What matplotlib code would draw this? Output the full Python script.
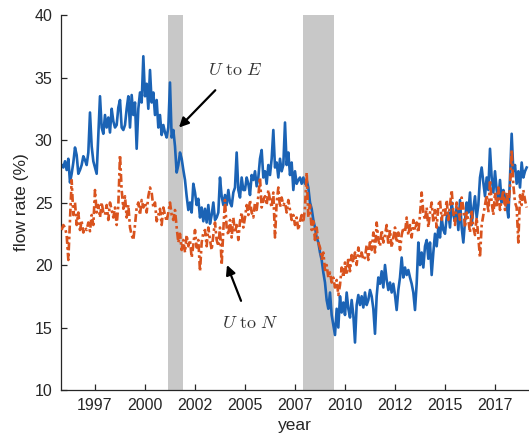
import matplotlib
matplotlib.use("Agg")
import matplotlib.pyplot as plt
import numpy as np

# ============================================================
# Data: monthly flow rates out of unemployment (%), Nov 1995 - Feb 2019
# ============================================================

start_year, start_month = 1995, 11

# U -> E flow rate, one row per calendar year
u_to_e = [
    28.0, 27.8,                                                          # 1995 (Nov-Dec)
    28.3, 27.6, 28.5, 26.6, 27.3, 28.2, 29.4, 28.8, 27.3, 27.6, 28.0, 28.7,  # 1996
    28.4, 28.0, 29.0, 32.2, 29.5, 28.3, 27.8, 27.3, 30.5, 33.5, 31.0, 30.5,  # 1997
    32.0, 31.0, 31.8, 30.6, 32.5, 31.5, 31.0, 31.2, 32.6, 33.2, 31.0, 30.8,  # 1998
    31.2, 32.5, 33.5, 31.0, 33.6, 32.0, 33.0, 29.3, 32.5, 33.8, 33.0, 36.7,  # 1999
    33.5, 34.5, 32.5, 35.6, 33.0, 33.8, 32.0, 33.2, 31.0, 32.0, 30.4, 31.2,  # 2000
    30.6, 30.2, 31.0, 34.6, 30.2, 30.8, 29.5, 27.4, 28.0, 29.0, 28.5, 27.6,  # 2001
    26.8, 25.5, 24.4, 25.0, 24.2, 26.5, 25.8, 24.8, 25.3, 23.8, 24.6, 23.5,  # 2002
    24.5, 23.4, 24.8, 23.3, 24.0, 25.0, 23.6, 23.8, 24.2, 27.0, 25.5, 24.8,  # 2003
    25.6, 24.8, 26.0, 25.0, 24.7, 25.8, 26.2, 29.0, 26.0, 25.4, 27.0, 26.0,  # 2004
    26.0, 27.0, 26.5, 25.6, 27.2, 26.8, 27.5, 26.3, 27.0, 28.5, 29.2, 27.0,  # 2005
    27.5, 26.5, 28.0, 27.2, 28.5, 30.8, 27.8, 28.2, 27.0, 28.5, 27.5, 28.0,  # 2006
    31.4, 28.0, 29.0, 27.2, 28.2, 26.0, 27.5, 26.5, 26.8, 27.0, 26.5, 27.0,  # 2007
    26.5, 26.8, 26.2, 25.0, 24.5, 23.6, 23.0, 22.2, 21.8, 21.0, 20.4, 19.4,  # 2008
    18.6, 17.2, 16.5, 17.8, 16.0, 15.2, 14.4, 16.5, 15.0, 17.5, 16.2, 17.0,  # 2009
    16.0, 17.8, 16.5, 15.8, 17.2, 16.0, 13.8, 16.8, 17.6, 16.8, 17.5, 16.6,  # 2010
    17.8, 16.8, 17.2, 18.0, 17.5, 16.5, 14.5, 17.5, 19.0, 18.5, 19.5, 18.2,  # 2011
    20.0, 18.8, 18.0, 18.6, 17.8, 18.5, 17.6, 16.4, 18.0, 19.0, 20.6, 19.0,  # 2012
    19.8, 19.2, 19.6, 19.0, 18.5, 17.8, 16.4, 18.5, 21.8, 20.0, 21.0, 19.8,  # 2013
    21.5, 22.0, 20.5, 21.8, 19.2, 21.0, 22.5, 21.5, 23.0, 22.2, 23.8, 22.8,  # 2014
    22.5, 23.8, 24.2, 23.0, 25.0, 24.0, 23.5, 24.6, 22.8, 25.2, 23.0, 21.8,  # 2015
    23.5, 25.0, 24.2, 25.8, 23.2, 24.5, 25.5, 23.8, 24.8, 27.0, 27.8, 26.6,  # 2016
    25.5, 27.0, 26.0, 29.3, 27.0, 25.8, 27.5, 26.0, 25.2, 26.8, 25.0, 26.0,  # 2017
    25.5, 24.8, 23.8, 27.0, 30.5, 27.5, 28.0, 26.5, 27.5, 26.2, 28.2, 27.0,  # 2018
    27.5, 27.8,                                                          # 2019 (Jan-Feb)
]

# U -> N flow rate
u_to_n = [
    22.8, 23.2,                                                          # 1995
    23.0, 22.4, 20.4, 23.5, 26.8, 24.0, 25.0, 23.2, 24.2, 22.8, 23.5, 22.6,  # 1996
    23.0, 22.8, 23.4, 22.7, 24.0, 23.2, 26.0, 24.2, 24.8, 23.8, 25.0, 24.2,  # 1997
    24.0, 24.8, 23.6, 25.0, 24.4, 23.8, 24.6, 23.2, 24.8, 28.8, 26.0, 24.5,  # 1998
    25.5, 23.8, 24.8, 23.0, 22.4, 22.0, 23.2, 24.6, 25.0, 24.0, 25.2, 24.6,  # 1999
    25.0, 24.2, 25.5, 26.2, 25.8, 24.6, 25.0, 23.5, 24.0, 24.5, 23.2, 24.6,  # 2000
    24.0, 23.5, 24.2, 25.0, 24.0, 23.6, 24.4, 23.0, 21.8, 22.5, 21.2, 22.0,  # 2001
    21.0, 22.4, 21.5, 22.0, 20.6, 21.6, 22.8, 21.4, 22.0, 19.5, 21.8, 22.6,  # 2002
    22.8, 21.5, 23.0, 22.0, 21.2, 22.4, 23.4, 22.0, 21.5, 23.0, 20.0, 22.8,  # 2003
    25.2, 23.0, 22.4, 23.6, 22.2, 23.8, 22.6, 23.2, 22.0, 23.5, 24.2, 23.0,  # 2004
    23.8, 24.8, 24.0, 25.2, 24.2, 23.8, 25.0, 24.4, 25.5, 27.0, 24.6, 25.2,  # 2005
    25.5, 24.8, 26.0, 25.2, 24.6, 25.8, 22.2, 25.0, 26.2, 24.6, 25.4, 24.8,  # 2006
    25.0, 24.2, 25.2, 24.4, 23.6, 24.0, 23.2, 23.8, 22.8, 23.5, 24.0, 23.4,  # 2007
    24.6, 27.4, 23.8, 24.8, 22.8, 23.5, 22.0, 23.0, 21.8, 21.4, 20.5, 21.0,  # 2008
    19.6, 20.0, 19.0, 19.4, 18.6, 19.0, 18.2, 18.8, 17.6, 18.4, 19.8, 19.0,  # 2009
    20.2, 19.2, 20.6, 19.5, 20.8, 20.2, 21.0, 20.0, 21.4, 20.6, 21.0, 20.4,  # 2010
    20.6, 21.6, 20.4, 22.0, 21.2, 22.6, 21.0, 23.4, 22.0, 21.5, 22.8, 21.8,  # 2011
    22.4, 23.2, 21.6, 22.8, 21.4, 22.2, 23.0, 21.8, 22.6, 21.2, 22.4, 23.0,  # 2012
    22.6, 23.8, 22.4, 23.2, 22.2, 23.6, 22.8, 23.4, 22.6, 24.0, 25.8, 24.2,  # 2013
    23.6, 24.6, 23.0, 24.2, 25.0, 23.4, 24.4, 23.0, 24.8, 25.2, 23.6, 24.4,  # 2014
    24.0, 25.2, 23.6, 24.8, 26.0, 24.2, 23.2, 25.0, 24.4, 23.6, 25.4, 24.6,  # 2015
    23.0, 24.2, 23.6, 22.6, 24.4, 23.0, 22.4, 23.8, 22.2, 20.6, 23.2, 24.0,  # 2016
    24.8, 25.6, 24.2, 26.8, 25.0, 24.0, 25.8, 24.6, 26.2, 24.4, 25.2, 26.0,  # 2017
    24.4, 25.8, 24.8, 26.2, 29.2, 26.4, 25.0, 24.6, 21.8, 25.6, 24.8, 26.0,  # 2018
    25.2, 24.6,                                                          # 2019
]

# NBER recessions (decimal years)
recessions = [(2001.17, 2001.9), (2007.92, 2009.46)]

# Ticks every 2.5 years, labelled with the year only
tick_pos = [1997.5, 2000.0, 2002.5, 2005.0, 2007.5, 2010.0, 2012.5, 2015.0, 2017.5]
tick_lab = ["1997", "2000", "2002", "2005", "2007", "2010", "2012", "2015", "2017"]
y_ticks = [10, 15, 20, 25, 30, 35, 40]

# decimal-year time axis
n = len(u_to_e)
t = start_year + (start_month - 1) / 12 + np.arange(n) / 12

# ============================================================
# Plot
# ============================================================

plt.rcParams["font.family"] = ["Liberation Sans", "DejaVu Sans"]
plt.rcParams["mathtext.fontset"] = "cm"

fig = plt.figure(figsize=(5.29, 4.44), dpi=100)
ax = fig.add_axes([0.1153, 0.1216, 0.8847, 0.8446])

# shaded recessions
for r0, r1 in recessions:
    ax.axvspan(r0, r1, color="#c8c8c8", lw=0, zorder=0)

ax.plot(t, u_to_e, color="#1b63b5", lw=1.9, zorder=2)
ax.plot(t, u_to_n, color="#d9531e", lw=1.9, linestyle=(0, (3, 1.2, 1, 1.2)), zorder=3)

ax.set_xlim(1995.8, 2019.2)
ax.set_ylim(10, 40)
ax.set_xticks(tick_pos)
ax.set_xticklabels(tick_lab)
ax.set_yticks(y_ticks)

# MATLAB-like axes: inward ticks, no box
for s in ["top", "right"]:
    ax.spines[s].set_visible(False)
for s in ["left", "bottom"]:
    ax.spines[s].set_color("#262626")
    ax.spines[s].set_linewidth(0.9)
ax.tick_params(direction="in", length=4, width=0.9, colors="#262626",
               labelsize=11.5, pad=6)

ax.set_ylabel("flow rate (%)", fontsize=12.5, color="#262626", labelpad=4)
ax.set_xlabel("year", fontsize=12.5, color="#262626", labelpad=3)

# annotations
ax.annotate(r"$U\ \mathrm{to}\ E$", xy=(2001.7, 31.0), xytext=(2004.5, 35.6),
            fontsize=13, color="#333333", ha="center", va="center",
            arrowprops=dict(arrowstyle="-|>", color="black", lw=1.6,
                            mutation_scale=14, shrinkA=9, shrinkB=0))
ax.annotate(r"$U\ \mathrm{to}\ N$", xy=(2004.1, 20.0), xytext=(2005.25, 15.3),
            fontsize=13, color="#333333", ha="center", va="center",
            arrowprops=dict(arrowstyle="-|>", color="black", lw=1.6,
                            mutation_scale=14, shrinkA=9, shrinkB=0))

fig.savefig("out.png", dpi=100)
